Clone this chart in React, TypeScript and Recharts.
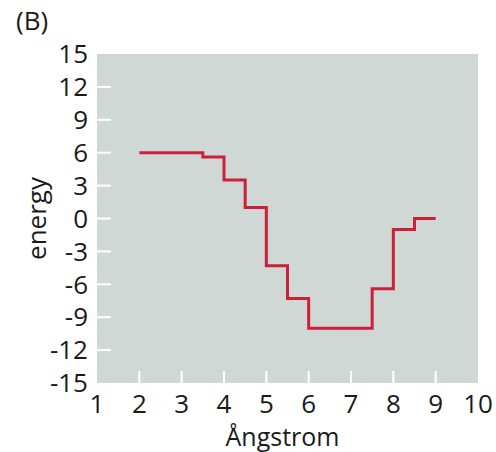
import React from "react";
import { LineChart, Line, XAxis, YAxis, CartesianGrid } from "recharts";

const angstrom = [2, 3.5, 4, 4.5, 5, 5.5, 6, 7.5, 8, 8.5, 9];
const energy = [6, 5.6, 3.5, 1, -4.3, -7.3, -10, -6.4, -1, 0, 0];
const xTicks = [1, 2, 3, 4, 5, 6, 7, 8, 9, 10];
const yTicks = [-15, -12, -9, -6, -3, 0, 3, 6, 9, 12, 15];

const data = angstrom.map((a, i) => ({ angstrom: a, energy: energy[i] }));

const FONT = "'Open Sans', sans-serif";
const INK = "#1a1a1a";
const Y_GAP = 9;
const X_GAP = 12;

function YTick(props: any) {
  const { x, y, payload } = props;
  const edge = x + Y_GAP;
  const v = payload.value;
  const inner = v !== yTicks[0] && v !== yTicks[yTicks.length - 1];
  return (
    <g>
      {inner && <line x1={edge} x2={edge + 14} y1={y} y2={y} stroke="#fff" strokeWidth={2} />}
      <text x={x} y={y} dy="0.355em" textAnchor="end" fontSize={26} fontFamily={FONT} fill={INK}>
        {v}
      </text>
    </g>
  );
}

function XTick(props: any) {
  const { x, y, payload } = props;
  const edge = y - X_GAP;
  const v = payload.value;
  const inner = v !== xTicks[0] && v !== xTicks[xTicks.length - 1];
  return (
    <g>
      {inner && <line x1={x} x2={x} y1={edge} y2={edge - 12} stroke="#fff" strokeWidth={2} />}
      <text x={x} y={y} dy="0.71em" textAnchor="middle" fontSize={26} fontFamily={FONT} fill={INK}>
        {v}
      </text>
    </g>
  );
}

export default function App() {
  return (
    <div style={{ position: "relative", width: 496, height: 452, background: "#fff" }}>
      <style>{"body{margin:0}"}</style>
      <div
        style={{
          position: "absolute",
          left: 16,
          top: 7,
          fontFamily: FONT,
          fontSize: 26,
          lineHeight: 1,
          color: INK,
        }}
      >
        (B)
      </div>
      <LineChart width={496} height={452} data={data} margin={{ top: 54, right: 18, bottom: 29, left: 37 }}>
        <CartesianGrid horizontal={false} vertical={false} fill="#cfd8d4" fillOpacity={1} />
        <XAxis
          type="number"
          dataKey="angstrom"
          domain={[1, 10]}
          ticks={xTicks}
          interval={0}
          height={40}
          axisLine={false}
          tickLine={false}
          tickSize={0}
          tickMargin={X_GAP}
          tick={<XTick />}
          label={(p: any) => (
            <text
              x={p.viewBox.x + p.viewBox.width / 2 - 5}
              y={p.viewBox.y + 63}
              textAnchor="middle"
              fontSize={25}
              fontFamily={FONT}
              fill={INK}
            >
              Ångstrom
            </text>
          )}
        />
        <YAxis
          type="number"
          domain={[-15, 15]}
          ticks={yTicks}
          interval={0}
          width={60}
          axisLine={false}
          tickLine={false}
          tickSize={0}
          tickMargin={Y_GAP}
          tick={<YTick />}
          label={(p: any) => {
            const cx = p.viewBox.x + 9;
            const cy = p.viewBox.y + p.viewBox.height / 2;
            return (
              <text
                x={cx}
                y={cy}
                transform={`rotate(-90, ${cx}, ${cy})`}
                textAnchor="middle"
                fontSize={26}
                fontFamily={FONT}
                fill={INK}
              >
                energy
              </text>
            );
          }}
        />
        <Line
          type="stepAfter"
          dataKey="energy"
          stroke="#cc1f38"
          strokeWidth={3}
          dot={false}
          isAnimationActive={false}
        />
      </LineChart>
    </div>
  );
}
